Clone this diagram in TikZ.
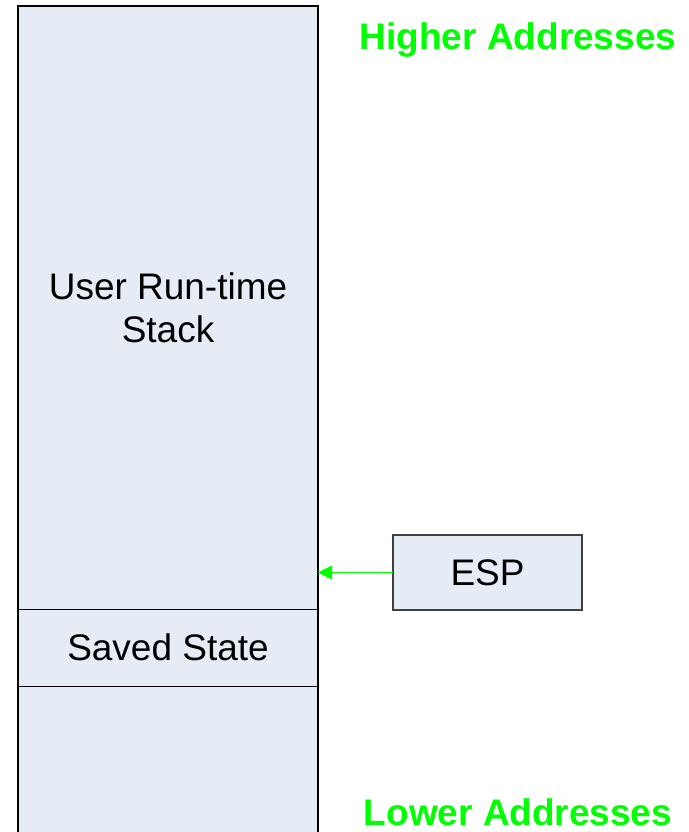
\documentclass[tikz,border=0pt]{standalone}
\usepackage[rgb]{xcolor}
\usepackage{tikz}
\usepackage{fontspec}
\setmainfont{Liberation Sans}
\usetikzlibrary{positioning,arrows.meta}

\definecolor{stackfill}{HTML}{E6ECF6}
\definecolor{addrgreen}{HTML}{00FF00}
\definecolor{edgegray}{HTML}{404040}

\begin{document}
\begin{tikzpicture}[x=0.025cm, y=-0.025cm,
  frame/.style={draw=black, fill=stackfill, line width=0.8pt, minimum width=7.5cm,
    inner sep=0pt, outer sep=0pt, align=center,
    font=\fontsize{26.3}{30.6}\selectfont},
  addr/.style={text=addrgreen, font=\fontsize{26.3}{30.6}\selectfont\bfseries,
    anchor=base, inner sep=0pt}]

\useasboundingbox (0,0) rectangle (688,832);
\clip (0,0) rectangle (688,832);


% Stack column
\node[frame, minimum height=15.075cm, anchor=north] (stack) at (168,6)
  {User Run-time\\Stack};

\node[frame, minimum height=1.925cm, below=0pt of stack] (saved) {Saved State};

\node[frame, minimum height=3.8cm, below=0pt of saved] (lower) {};



% Address labels
\path
(518,50) node[addr] (high) {Higher Addresses};
\path
(518,825) node[addr] (low) {Lower Addresses};



% ESP pointer
\node[frame, draw=edgegray, minimum width=4.725cm, minimum height=1.875cm]
  (esp) at (487.5,572.5) {ESP};

\coordinate (sp) at (stack.east |- esp.west);

\draw[addrgreen, line width=0.7pt, -{Triangle[length=0.35cm, width=0.35cm]}]
  (esp.west) -- (sp);


\end{tikzpicture}
\end{document}
